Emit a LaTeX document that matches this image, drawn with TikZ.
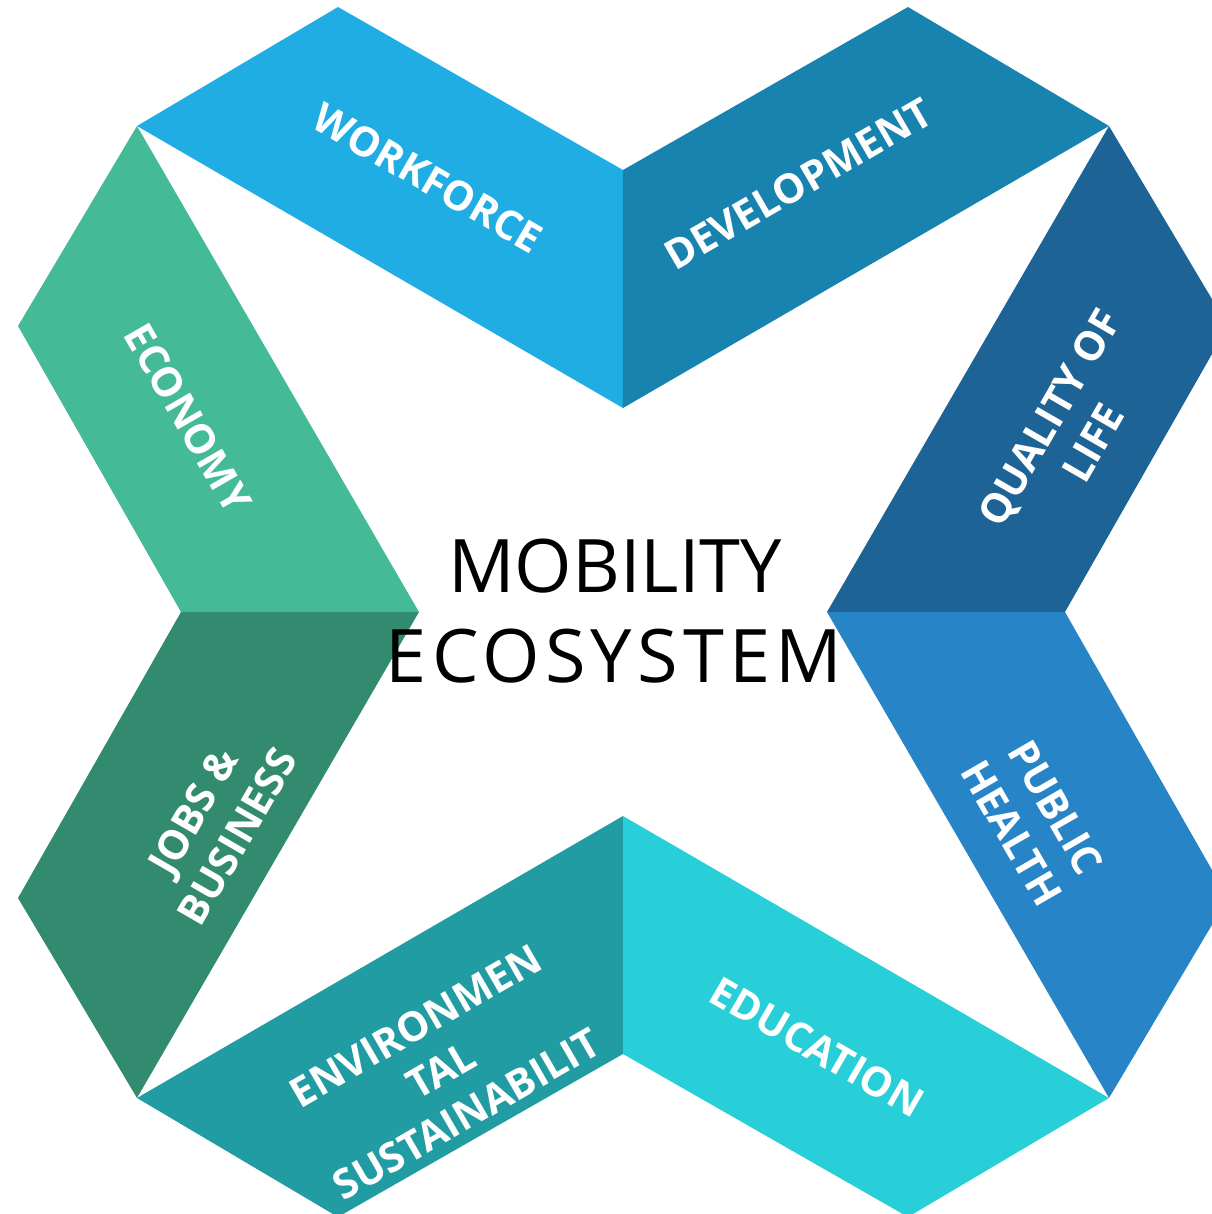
\documentclass[tikz,border=0pt]{standalone}
\usepackage{fontspec}
\setmainfont{Open Sans}
\newfontfamily\spacedfont[LetterSpace=7]{Open Sans}
\definecolor{workforce}{HTML}{1FADE4}
\definecolor{development}{HTML}{1883AF}
\definecolor{qualitylife}{HTML}{1E6395}
\definecolor{publichealth}{HTML}{2784C7}
\definecolor{education}{HTML}{28CED8}
\definecolor{environment}{HTML}{209CA2}
\definecolor{jobsbusiness}{HTML}{328B6F}
\definecolor{economy}{HTML}{44BA97}
\begin{document}
\begin{tikzpicture}[x=0.01cm,y=0.01cm,
    bandtext/.style={text=white,font=\bfseries\fontsize{11.6}{14.5}\selectfont,align=center,inner sep=0pt}]
    \useasboundingbox (-623,-602) rectangle (589,612);
    \clip (-623,-602) rectangle (589,612);
    % Punti in alto
    \coordinate (tl) at (-486,486);
    \coordinate (tb) at (-285,605);
    \coordinate (tc) at (0,442);
    \coordinate (td) at (0,204);
    \coordinate (te) at (285,605);
    \coordinate (tr) at (486,486);
    % Punti a destra
    \coordinate (rg) at (605,286);
    \coordinate (rh) at (442,0);
    \coordinate (ri) at (204,0);
    \coordinate (rj) at (605,-286);
    \coordinate (br) at (486,-486);
    % Punti in basso
    \coordinate (be) at (285,-605);
    \coordinate (bc) at (0,-442);
    \coordinate (bd) at (0,-204);
    \coordinate (bb) at (-285,-605);
    \coordinate (bl) at (-486,-486);
    % Punti a sinistra
    \coordinate (lj) at (-605,-286);
    \coordinate (lh) at (-442,0);
    \coordinate (li) at (-204,0);
    \coordinate (lg) at (-605,286);
    % Nastri
    \fill[workforce] (tl) -- (tb) -- (tc) -- (td) -- cycle;
    \fill[development] (td) -- (tc) -- (te) -- (tr) -- cycle;
    \fill[qualitylife] (tr) -- (rg) -- (rh) -- (ri) -- cycle;
    \fill[publichealth] (ri) -- (rh) -- (rj) -- (br) -- cycle;
    \fill[education] (br) -- (be) -- (bc) -- (bd) -- cycle;
    \fill[environment] (bd) -- (bc) -- (bb) -- (bl) -- cycle;
    \fill[jobsbusiness] (bl) -- (lj) -- (lh) -- (li) -- cycle;
    \fill[economy] (li) -- (lh) -- (lg) -- (tl) -- cycle;
    % Scritte
    \node[bandtext,rotate=-30] (workf) at (-195,434) {WORKFORCE};
    \node[bandtext,rotate=30] (devel) at (175,428) {DEVELOPMENT};
    \node[bandtext,rotate=60] (qual) at (448,182) {QUALITY OF\\LIFE};
    \node[bandtext,rotate=-60] (health) at (411,-208) {PUBLIC\\HEALTH};
    \node[bandtext,rotate=-30] (educ) at (194,-435) {EDUCATION};
    \node[bandtext,rotate=30] (envir) at (-182,-458) {ENVIRONMEN\\TAL\\SUSTAINABILIT};
    \node[bandtext,rotate=60] (jobs) at (-408,-212) {JOBS \&\\BUSINESS};
    \node[bandtext,rotate=-60] (econ) at (-435,194) {ECONOMY};
    % Titolo
    \node[anchor=base,font=\fontsize{21}{25}\selectfont,inner sep=0pt] (title) at (-8,20) {MOBILITY};
    \node[anchor=base,font=\spacedfont\fontsize{21}{25}\selectfont,inner sep=0pt] (subtitle) at (-9,-70) {ECOSYSTEM};
\end{tikzpicture}
\end{document}
